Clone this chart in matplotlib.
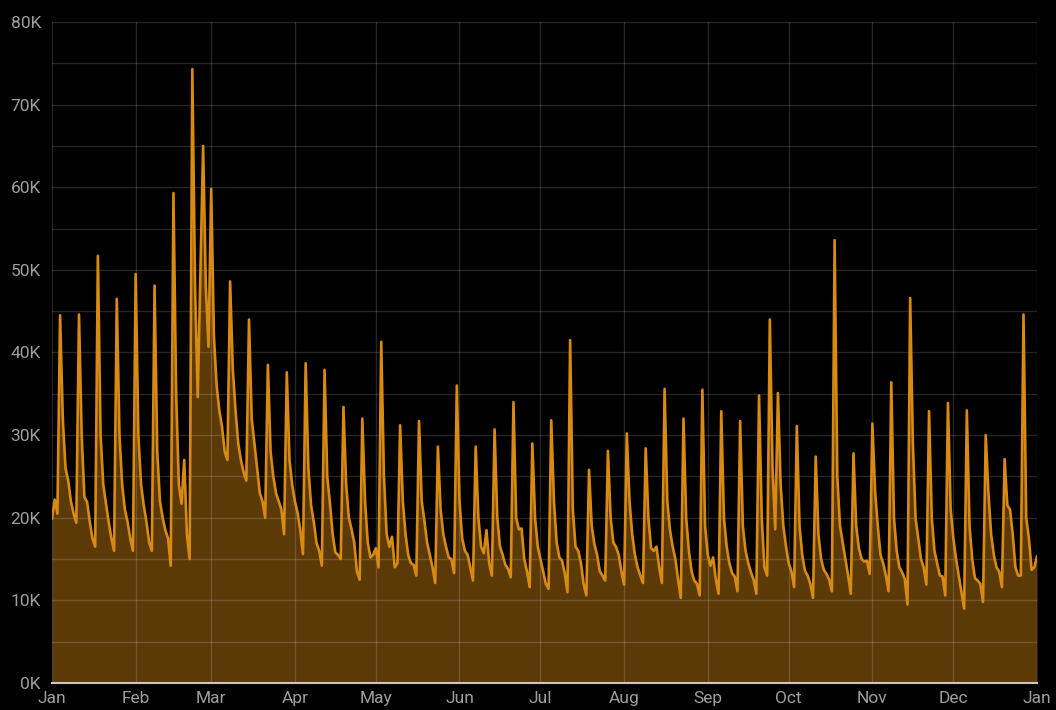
import numpy as np
import pandas as pd
import matplotlib
matplotlib.use("Agg")
import matplotlib.pyplot as plt
import matplotlib.dates as mdates
from matplotlib.ticker import MultipleLocator, FuncFormatter

# daily values in thousands, Jan 1 2019 .. Jan 1 2020
# first three days, then one row per week starting on the weekly peak day
pre = [19.9, 22.2, 20.5]
weeks = [
    [44.5, 32, 26, 24.5, 22, 20.5, 19.4],
    [44.6, 30, 22.5, 21.9, 19.5, 17.5, 16.5],
    [51.7, 30, 24, 21.7, 19.5, 17.5, 16],
    [46.5, 30, 24, 21, 19.5, 17.5, 16],
    [49.5, 30, 24, 21.5, 19.5, 17, 16],
    [48.1, 28, 22, 20, 18.5, 17.5, 14.2],
    [59.3, 35, 24, 21.7, 27, 18, 15],
    [74.3, 48, 34.6, 50, 65, 48, 40.7],
    [59.8, 42, 36, 33, 31, 28, 27],
    [48.6, 38, 33, 29, 27, 25.5, 24.5],
    [44, 32, 29, 26, 23, 22, 20],
    [38.5, 28, 25, 23, 22, 21, 18],
    [37.6, 27, 24, 22, 20.6, 18.5, 15.6],
    [38.7, 26, 21.5, 19.5, 17, 16, 14.2],
    [37.9, 25, 21.7, 18, 15.8, 15.5, 15],
    [33.4, 24, 20, 18.6, 17, 13.5, 12.5],
    [32, 22, 17, 15.2, 15.5, 16.3, 14],
    [41.3, 25, 18, 16.5, 17.7, 14, 14.5],
    [31.2, 22, 18, 15.5, 14.5, 14.3, 13],
    [31.7, 22, 19.6, 17, 15.5, 14, 12.1],
    [28.6, 21, 18, 16.5, 15.2, 15, 13.3],
    [36, 22, 17.5, 16, 15.5, 14, 12.4],
    [28.6, 20, 16.5, 15.7, 18.5, 14.5, 13],
    [30.7, 20, 16.5, 15.5, 14.3, 13.8, 12.8],
    [34, 20, 18.6, 18.7, 15, 13.5, 11.6],
    [29, 20, 16.5, 15, 13.5, 12, 11.4],
    [31.8, 22, 17, 15.2, 14.8, 13.3, 11],
    [41.5, 21, 16.5, 16, 14.5, 12, 10.6],
    [25.8, 19, 16.8, 15.5, 13.5, 13, 12.4],
    [28.1, 20, 17, 16.5, 15.5, 13.5, 11.9],
    [30.2, 22, 18, 15.5, 14, 13, 12.1],
    [28.4, 20, 16.3, 16, 16.5, 14, 12.1],
    [35.6, 22, 18.5, 16.5, 15, 12.5, 10.3],
    [32, 20, 16, 13.5, 12.4, 12, 10.6],
    [35.5, 19, 15.5, 14.2, 15.2, 12.5, 10.8],
    [32.9, 20, 16.5, 14.5, 13.3, 12.9, 11.1],
    [31.7, 19, 16, 14.5, 13.4, 12.5, 10.8],
    [34.8, 20, 14, 13, 44, 26, 18.6],
    [35.1, 24, 19, 16.5, 14.5, 13.5, 11.6],
    [31.1, 19, 15.5, 13.6, 13, 12, 10.3],
    [27.4, 18, 15, 13.7, 13.2, 12.5, 11.1],
    [53.6, 25, 19, 17, 15, 13, 10.8],
    [27.8, 19, 16.3, 15, 14.7, 14.8, 13.2],
    [31.4, 23.2, 19, 15.5, 14.5, 13, 11.1],
    [36.4, 20, 16, 14, 13.4, 12.6, 9.5],
    [46.6, 29, 19.9, 17.5, 15, 14, 11.9],
    [32.9, 20, 16, 14.5, 13, 12.9, 10.6],
    [33.9, 21, 17.5, 15, 13, 11, 9],
    [33, 19, 15, 12.7, 12.4, 12, 9.8],
    [30, 23, 18, 15.5, 14, 13.5, 11.6],
    [27.1, 21.5, 21, 18, 14, 13, 13],
    [44.6, 20, 17.5, 13.7, 14, 15.3],
]

values = np.array(pre + [v for w in weeks for v in w]) * 1000
dates = pd.date_range("2019-01-01", periods=len(values), freq="D")

line_color = "#d88a12"
fill_color = "#5c3a08"
text_color = "#9e9e9e"

plt.rcParams["font.family"] = ["Roboto", "DejaVu Sans"]

fig = plt.figure(figsize=(10.56, 7.10), dpi=100, facecolor="black")
ax = fig.add_axes([52 / 1056, 27 / 710, 985 / 1056, 661 / 710])
ax.set_facecolor("black")

ax.fill_between(dates, values, 0, color=fill_color, lw=0, zorder=1)
ax.plot(dates, values, color=line_color, lw=1.9, zorder=3,
        solid_joinstyle="round")

ax.set_xlim(dates[0], pd.Timestamp("2020-01-01"))
ax.set_ylim(0, 80000)

ax.xaxis.set_major_locator(mdates.MonthLocator())
ax.xaxis.set_major_formatter(mdates.DateFormatter("%b"))
ax.yaxis.set_major_locator(MultipleLocator(10000))
ax.yaxis.set_minor_locator(MultipleLocator(5000))
ax.yaxis.set_major_formatter(FuncFormatter(lambda v, p: f"{int(v / 1000)}K"))

# grid sits above the fill but under the line
ax.set_axisbelow(False)
ax.grid(True, which="both", color="white", alpha=0.15, lw=1)

ax.tick_params(axis="both", which="both", length=0, colors=text_color,
               labelsize=12.5)
ax.tick_params(axis="x", pad=6)
ax.tick_params(axis="y", pad=8)

for s in ["top", "right", "left"]:
    ax.spines[s].set_visible(False)
ax.spines["bottom"].set_color("#c8c8c8")
ax.spines["bottom"].set_linewidth(1.5)
ax.spines["bottom"].set_zorder(4)

fig.savefig("out.png", dpi=100, facecolor="black")
